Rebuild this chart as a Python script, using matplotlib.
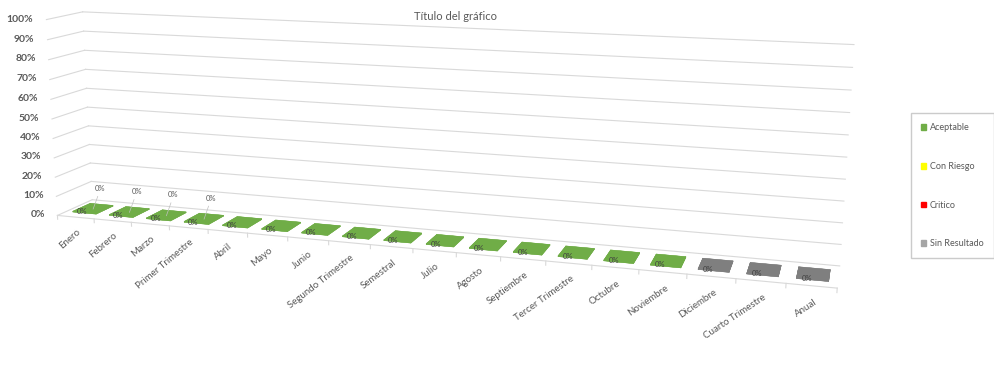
import numpy as np
import matplotlib
matplotlib.use("Agg")
import matplotlib.pyplot as plt
from matplotlib.patches import Patch

plt.rcParams['font.family'] = ['Lato', 'DejaVu Sans']

# datos del gráfico
categorias = ["Enero", "Febrero", "Marzo", "Primer Trimestre", "Abril", "Mayo",
              "Junio", "Segundo Trimestre", "Semestral", "Julio", "Agosto",
              "Septiembre", "Tercer Trimestre", "Octubre", "Noviembre",
              "Diciembre", "Cuarto Trimestre", "Anual"]
aceptable = [0, 0, 0, 0, 0, 0, 0, 0, 0, 0, 0, 0, 0, 0, 0,
             np.nan, np.nan, np.nan]
con_riesgo = [0, 0, 0, 0] + [np.nan] * 14
critico = [np.nan] * 18
sin_resultado = [np.nan] * 15 + [0, 0, 0]
ticks_pct = [0, 10, 20, 30, 40, 50, 60, 70, 80, 90, 100]

series = [("Aceptable", aceptable, "#70AD47"),
          ("Con Riesgo", con_riesgo, "#FFFF00"),
          ("Critico", critico, "#FF0000"),
          ("Sin Resultado", sin_resultado, "#A5A5A5")]

GRIS_TXT = "#595959"
GRIS_LIN = "#D9D9D9"

W, H = 994, 371
cx, cy = 0.413, 0.595   # centro del área 3D en la figura
fig = plt.figure(figsize=(W / 100, H / 100), dpi=100)
# ejes 3D cuadrados que cubren todo el ancho
ax = fig.add_axes([cx - 0.5, cy - W / H / 2, 1, W / H], projection="3d")
ax.set_proj_type("persp", focal_length=0.26)
ax.view_init(elev=12, azim=-72)
ax.set_box_aspect((8, 0.7, 2.1), zoom=0.82)
ax.set_axis_off()
ax.computed_zorder = False

n = len(categorias)
x0, x1 = -0.5, n - 0.5
ax.set_xlim(x0, x1)
ax.set_ylim(0, 1)
ax.set_zlim(0, 100)

# líneas de división: pared del fondo y pared lateral
for t in ticks_pct:
    ax.plot([x0, x1], [1, 1], [t, t], color=GRIS_LIN, lw=0.8, zorder=1)
    ax.plot([x0, x0], [0, 1], [t, t], color=GRIS_LIN, lw=0.8, zorder=1)
    ax.text(x0 - 0.35, 0, t, f"{t}%", ha="right", va="center",
            fontsize=7.5, color=GRIS_TXT, fontweight="bold", zorder=3)

# borde frontal del piso con marcas
ax.plot([x0, x1], [0, 0], [0, 0], color=GRIS_LIN, lw=0.8, zorder=1)
for i in range(n + 1):
    ax.plot([x0 + i, x0 + i], [0, 0], [0, -2], color=GRIS_LIN, lw=0.8,
            zorder=1)

# barras (valores 0%)
for nombre, vals, color in series:
    if nombre in ("Con Riesgo", "Critico"):
        continue
    if nombre == "Sin Resultado":
        color = "#7F7F7F"
    for i, v in enumerate(vals):
        if np.isnan(v):
            continue
        ax.bar3d(i - 0.32, 0.25, 0, 0.64, 0.5, max(v, 0.4), color=color,
                 shade=False, edgecolor=color, linewidth=0.3, zorder=2)
        ax.text(i - 0.12, 0.3, 0, f"{v:.0%}", fontsize=5.5, color="#404040",
                ha="center", va="center", zorder=3)

# etiquetas de la serie "Con Riesgo" sobre las barras
for i, v in enumerate(con_riesgo):
    if np.isnan(v):
        continue
    ax.plot([i, i + 0.05], [0.5, 0.6], [0, 6], color="#BFBFBF", lw=0.5,
            zorder=3)
    ax.text(i + 0.08, 0.65, 8, f"{v:.0%}", fontsize=5.5, color=GRIS_TXT,
            ha="center", va="bottom", zorder=3)

# etiquetas de categorías
for i, c in enumerate(categorias):
    ax.text(i + 0.15, 0, -5, c, zdir=(1, 0, 18), fontsize=7,
            color=GRIS_TXT, ha="right", va="top", zorder=3)

fig.text(0.458, 0.955, "Título del gráfico", ha="center", va="center",
         fontsize=8, color=GRIS_TXT)

handles = [Patch(facecolor=c, edgecolor=c) for _, _, c in series]
fig.legend(handles, [s[0] for s in series], loc="upper left",
           bbox_to_anchor=(0.9165, 0.695), borderaxespad=0, fontsize=6.5,
           frameon=True, fancybox=False, edgecolor="#BFBFBF",
           labelspacing=3.3, handlelength=0.6, handleheight=0.6,
           handletextpad=0.4, borderpad=1.1, labelcolor=GRIS_TXT)

fig.savefig("out.png", dpi=100)
